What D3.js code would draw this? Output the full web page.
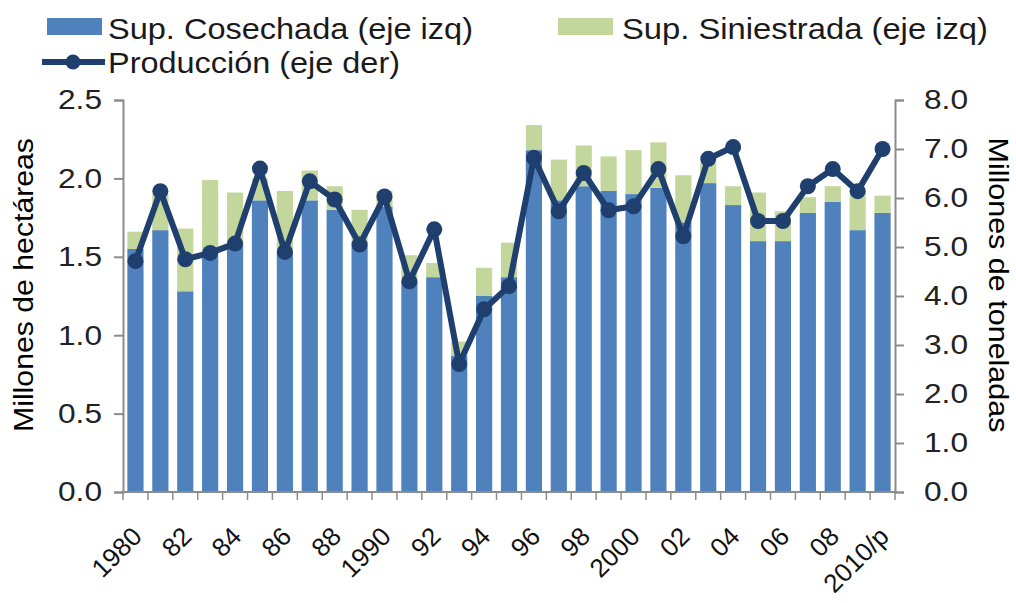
<!DOCTYPE html>
<html lang="es">
<head>
<meta charset="UTF-8">
<title>Superficie y producción</title>
<script src="https://d3js.org/d3.v7.min.js"></script>
<style>
  body { margin: 0; background: #fff; }
  svg text { font-family: Arial, "Liberation Sans", sans-serif; }
</style>
</head>
<body>
<div id="chart"></div>
<script>
// data
var years = ["1980","1981","1982","1983","1984","1985","1986","1987","1988","1989",
             "1990","1991","1992","1993","1994","1995","1996","1997","1998","1999",
             "2000","2001","2002","2003","2004","2005","2006","2007","2008","2009","2010"];
var yearLabels = ["1980","","82","","84","","86","","88","","1990","","92","","94","",
                  "96","","98","","2000","","02","","04","","06","","08","","2010/p"];
var cosechada = [1.55,1.67,1.28,1.51,1.58,1.86,1.53,1.86,1.80,1.58,
                 1.82,1.34,1.37,0.87,1.25,1.37,2.18,1.86,1.95,1.92,
                 1.90,1.94,1.72,1.97,1.83,1.60,1.60,1.78,1.85,1.67,1.78];
var siniestrada = [0.11,0.23,0.40,0.48,0.33,0.14,0.39,0.19,0.15,0.22,
                   0.10,0.17,0.09,0.09,0.18,0.22,0.16,0.26,0.26,0.22,
                   0.28,0.29,0.30,0.13,0.12,0.31,0.19,0.10,0.10,0.26,0.11];
var produccion = [4.71,6.14,4.75,4.88,5.07,6.60,4.90,6.34,5.97,5.05,
                  6.03,4.30,5.36,2.61,3.73,4.20,6.82,5.73,6.51,5.75,
                  5.83,6.59,5.22,6.80,7.04,5.53,5.53,6.24,6.59,6.14,7.00];
var leftTicks = [0, 0.5, 1.0, 1.5, 2.0, 2.5];
var rightTicks = [0, 1, 2, 3, 4, 5, 6, 7, 8];

var W = 1016, H = 603;
var m = { left: 123, right: 895, top: 100, bottom: 492 };
var blue = "#4F81BD", green = "#C3D69B", navy = "#1F3F6F", axisCol = "#8C8C8C";

var svg = d3.select("#chart").append("svg")
    .attr("width", W).attr("height", H);

var x = d3.scaleBand().domain(years).range([m.left, m.right]).paddingInner(0.35).paddingOuter(0.175);
var yL = d3.scaleLinear().domain([0, 2.5]).range([m.bottom, m.top]);
var yR = d3.scaleLinear().domain([0, 8]).range([m.bottom, m.top]);

var rows = years.map(function(y, i) {
  return { year: y, c: cosechada[i], s: siniestrada[i], p: produccion[i] };
});

// stacked bars
svg.append("g").selectAll("rect.c").data(rows).enter().append("rect")
  .attr("x", function(d) { return x(d.year); })
  .attr("width", x.bandwidth())
  .attr("y", function(d) { return yL(d.c); })
  .attr("height", function(d) { return yL(0) - yL(d.c); })
  .attr("fill", blue);
svg.append("g").selectAll("rect.s").data(rows).enter().append("rect")
  .attr("x", function(d) { return x(d.year); })
  .attr("width", x.bandwidth())
  .attr("y", function(d) { return yL(d.c + d.s); })
  .attr("height", function(d) { return yL(d.c) - yL(d.c + d.s); })
  .attr("fill", green);

// left axis
var gL = svg.append("g").attr("transform", "translate(" + m.left + ",0)")
  .call(d3.axisLeft(yL).tickValues(leftTicks).tickFormat(d3.format(".1f")).tickSize(9).tickPadding(12));
// right axis
var gR = svg.append("g").attr("transform", "translate(" + m.right + ",0)")
  .call(d3.axisRight(yR).tickValues(rightTicks).tickFormat(d3.format(".1f")).tickSize(9).tickPadding(20));
[gL, gR].forEach(function(g) {
  g.select(".domain").attr("stroke", axisCol).attr("stroke-width", 2);
  g.selectAll(".tick line").attr("stroke", axisCol).attr("stroke-width", 2);
  g.selectAll(".tick text").attr("font-size", 28).attr("fill", "#222")
    .attr("textLength", 44).attr("lengthAdjust", "spacingAndGlyphs");
});
gR.selectAll(".tick text").attr("text-anchor", "start");

// bottom axis: ticks between categories
var gB = svg.append("g");
gB.append("line").attr("x1", m.left - 2).attr("x2", m.right + 2)
  .attr("y1", m.bottom).attr("y2", m.bottom)
  .attr("stroke", axisCol).attr("stroke-width", 2);
gB.selectAll("line.t").data(d3.range(years.length + 1)).enter().append("line")
  .attr("x1", function(i) { return m.left + i * (m.right - m.left) / years.length; })
  .attr("x2", function(i) { return m.left + i * (m.right - m.left) / years.length; })
  .attr("y1", m.bottom).attr("y2", m.bottom + 8)
  .attr("stroke", axisCol).attr("stroke-width", 1.5);
gB.selectAll("text").data(rows).enter().append("text")
  .attr("transform", function(d) {
    return "translate(" + (x(d.year) + x.bandwidth() / 2 + 8) + "," + 538 + ") rotate(-45)";
  })
  .attr("text-anchor", "end")
  .attr("font-size", 26)
  .attr("fill", "#111")
  .text(function(d, i) { return yearLabels[i]; });

// production line
var line = d3.line()
  .x(function(d) { return x(d.year) + x.bandwidth() / 2; })
  .y(function(d) { return yR(d.p); });
svg.append("path").datum(rows)
  .attr("d", line).attr("fill", "none")
  .attr("stroke", navy).attr("stroke-width", 6).attr("stroke-linejoin", "round");
svg.append("g").selectAll("circle").data(rows).enter().append("circle")
  .attr("cx", function(d) { return x(d.year) + x.bandwidth() / 2; })
  .attr("cy", function(d) { return yR(d.p); })
  .attr("r", 8).attr("fill", navy);

// axis titles
svg.append("text")
  .attr("transform", "translate(33,285) rotate(-90)")
  .attr("text-anchor", "middle").attr("font-size", 27).attr("fill", "#000")
  .attr("textLength", 294).attr("lengthAdjust", "spacingAndGlyphs")
  .text("Millones de hectáreas");
svg.append("text")
  .attr("transform", "translate(989,285) rotate(90)")
  .attr("text-anchor", "middle").attr("font-size", 27).attr("fill", "#000")
  .attr("textLength", 295).attr("lengthAdjust", "spacingAndGlyphs")
  .text("Millones de toneladas");

// legend
var leg = svg.append("g");
leg.append("rect").attr("x", 47).attr("y", 18).attr("width", 55).attr("height", 17).attr("fill", blue);
leg.append("text").attr("x", 108).attr("y", 39).attr("font-size", 30).attr("fill", "#1a1a1a")
  .attr("textLength", 365).attr("lengthAdjust", "spacingAndGlyphs")
  .text("Sup. Cosechada (eje izq)");
leg.append("rect").attr("x", 558).attr("y", 18).attr("width", 55).attr("height", 17).attr("fill", green);
leg.append("text").attr("x", 622).attr("y", 39).attr("font-size", 30).attr("fill", "#1a1a1a")
  .attr("textLength", 366).attr("lengthAdjust", "spacingAndGlyphs")
  .text("Sup. Siniestrada (eje izq)");
leg.append("line").attr("x1", 42).attr("x2", 105).attr("y1", 62).attr("y2", 62)
  .attr("stroke", navy).attr("stroke-width", 6);
leg.append("circle").attr("cx", 73).attr("cy", 62).attr("r", 7.5).attr("fill", navy);
leg.append("text").attr("x", 108).attr("y", 73).attr("font-size", 30).attr("fill", "#1a1a1a")
  .attr("textLength", 292).attr("lengthAdjust", "spacingAndGlyphs")
  .text("Producción (eje der)");
</script>
</body>
</html>
